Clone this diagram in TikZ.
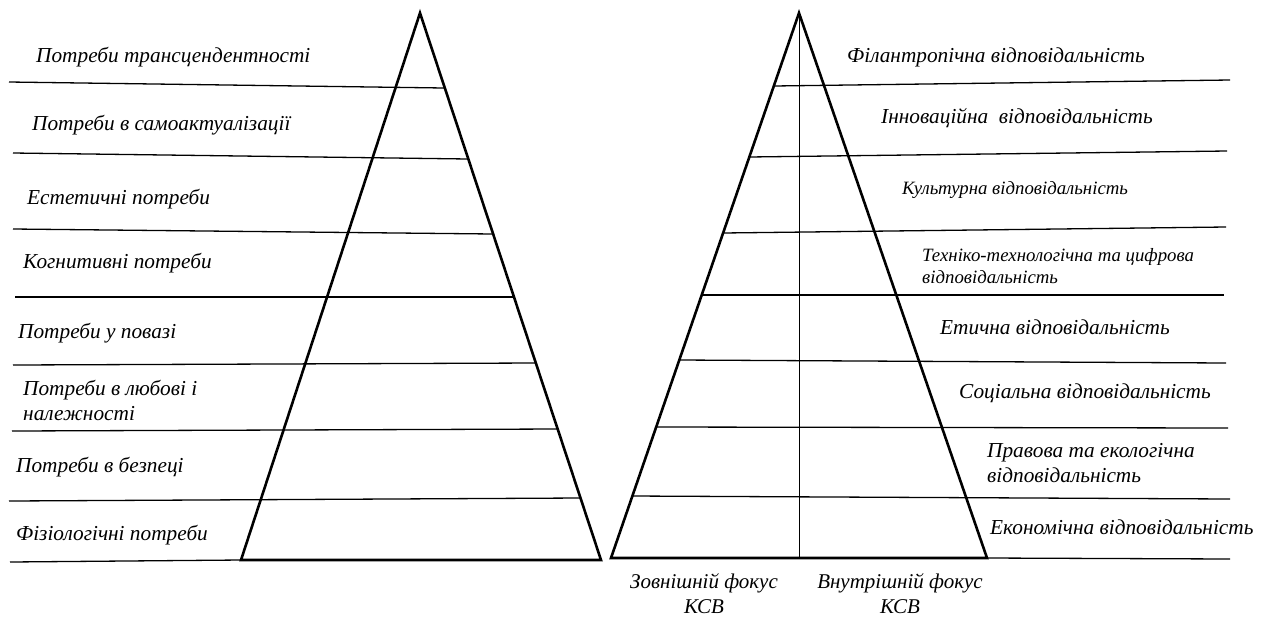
\documentclass[tikz,border=0pt]{standalone}
\usepackage{fontspec}
\setmainfont{Liberation Serif}
\begin{document}
\begin{tikzpicture}[x=1pt,y=-1pt,
  frame/.style={line width=2.6pt,line join=miter},
  divider/.style={line width=1.3pt},
  axis/.style={line width=1pt},
  lbl/.style={anchor=west,inner sep=0pt,font=\fontsize{21.3}{25}\selectfont\itshape,align=left},
  lblsm/.style={anchor=west,inner sep=0pt,font=\fontsize{18.8}{22}\selectfont\itshape,align=left},
  foc/.style={anchor=center,inner sep=0pt,font=\fontsize{21}{25}\selectfont\itshape,align=center}]
\useasboundingbox (0,0) rectangle (1263,619);

% ---------- Maslow pyramid (left) ----------
\coordinate (LA) at (420,13);
\coordinate (LBL) at (241,560);
\coordinate (LBR) at (601,560);
\draw[divider] (9,82) -- (444,88);
\draw[divider] (13,153) -- (468,159);
\draw[divider] (13,229) -- (493,234);
\draw[divider] (15,297) -- (514,297);
\draw[divider] (13,365) -- (536,363);
\draw[divider] (12,431) -- (558,429);
\draw[divider] (9,501) -- (580,498);
\draw[divider] (10,562) -- (LBL);
\draw[frame] (LA) -- (LBR) -- (LBL) -- cycle;

\node[lbl] (m1) at (36,57) {Потреби трансцендентності};
\node[lbl] (m2) at (32,125) {Потреби в самоактуалізації};
\node[lbl] (m3) at (27,199) {Естетичні потреби};
\node[lbl] (m4) at (23,263) {Когнитивні потреби};
\node[lbl] (m5) at (18,333) {Потреби у повазі};
\node[lbl] (m6) at (23,400) {Потреби в любові і\\належності};
\node[lbl] (m7) at (16,467) {Потреби в безпеці};
\node[lbl] (m8) at (16,535) {Фізіологічні потреби};

% ---------- CSR pyramid (right) ----------
\coordinate (RA) at (799,13);
\coordinate (RBL) at (611,558);
\coordinate (RBR) at (987,558);
\draw[divider] (774,86) -- (1230,80);
\draw[divider] (749,157) -- (1227,151);
\draw[divider] (723,233) -- (1226,227);
\draw[divider] (702,295) -- (1224,295);
\draw[divider] (679,360) -- (1226,363);
\draw[divider] (656,427) -- (1228,428);
\draw[divider] (632,496) -- (1230,499);
\draw[divider] (RBR) -- (1230,559);
\draw[axis] (RA) -- (RA |- RBL);
\draw[frame] (RA) -- (RBR) -- (RBL) -- cycle;

\node[lbl] (c1) at (847,57) {Філантропічна відповідальність};
\node[lbl] (c2) at (881,118) {Інноваційна\ \ відповідальність};
\node[lblsm] (c3) at (902,190) {Культурна відповідальність};
\node[lblsm] (c4) at (922,266) {Техніко-технологічна та цифрова\\відповідальність};
\node[lbl] (c5) at (940,327) {Етична відповідальність};
\node[lbl] (c6) at (959,393) {Соціальна відповідальність};
\node[lbl] (c7) at (987,463) {Правова та екологічна\\відповідальність};
\node[lbl] (c8) at (990,527) {Економічна відповідальність};

\node[foc] (fo) at (704,594) {Зовнішній фокус\\КСВ};
\node[foc] (fi) at (900,594) {Внутрішній фокус\\КСВ};
\end{tikzpicture}
\end{document}
